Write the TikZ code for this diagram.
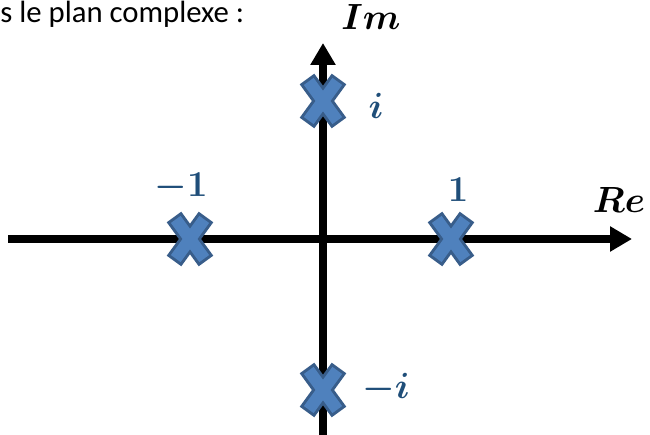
\documentclass[tikz,border=0pt]{standalone}
\usepackage{fontspec}
\setsansfont{Carlito}
\usepackage{tikz}
\usetikzlibrary{arrows.meta}
\definecolor{croixfond}{RGB}{79,129,189}
\definecolor{croixbord}{RGB}{56,93,138}
\definecolor{lblbleu}{RGB}{31,78,121}

\begin{document}
\begin{tikzpicture}[x=0.02cm, y=-0.02cm,
  axe/.style={line width=0.16cm, -{Triangle[length=0.44cm, width=0.48cm]}},
  croix/.style={minimum width=1.1cm, minimum height=1.3cm, inner sep=0pt, path picture={
    \foreach \c/\w/\s in {croixbord/0.36cm/1, croixfond/0.24cm/0.89}{
      \draw[\c, line width=\w] (path picture bounding box.center) ++(-16*\s,-22*\s) -- ++(32*\s,44*\s);
      \draw[\c, line width=\w] (path picture bounding box.center) ++(16*\s,-22*\s) -- ++(-32*\s,44*\s);
    }}},
  lbl/.style={font=\fontsize{20}{24}\selectfont\boldmath, text=lblbleu, inner sep=0pt},
  axlbl/.style={font=\fontsize{22}{26}\selectfont\boldmath, inner sep=0pt}
]
\useasboundingbox (0,0) rectangle (650,435);

\node[font=\sffamily\fontsize{17.5}{20}\selectfont, anchor=base west, inner sep=0pt] (titre) at (0,23) {s le plan complexe :};

% axes
\coordinate (gauche) at (8,239);
\coordinate (droite) at (632,239);
\coordinate (bas) at (323,435);
\coordinate (haut) at (323,43);
\draw[axe] (gauche) -- (droite);
\draw[axe] (bas) -- (haut);
\node[axlbl] (re) at (619,200) {$Re$};
\node[axlbl] (im) at (371,17) {$Im$};

% racines
\node[croix] (m1) at (190,239) {};
\node[croix] (p1) at (451,239) {};
\node[croix] (ni) at (323,101) {};
\node[croix] (nmi) at (323,390) {};

\node[lbl] (lm1) at (181,187) {$-1$};
\node[lbl] (lp1) at (458,190) {$1$};
\node[lbl] (lni) at (376,106) {$i$};
\node[lbl] (lnmi) at (386,388) {$-i$};
\end{tikzpicture}
\end{document}
